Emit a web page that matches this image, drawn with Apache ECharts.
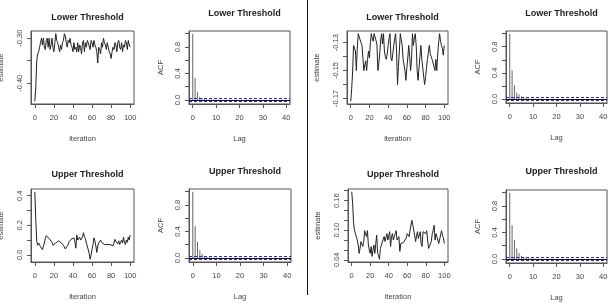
<!DOCTYPE html>
<html>
<head>
<meta charset="utf-8">
<script src="https://cdn.jsdelivr.net/npm/echarts@6/dist/echarts.min.js"></script>
<style>
html, body { margin: 0; padding: 0; background: #fff; }
#main { width: 611px; height: 306px; }
</style>
</head>
<body>
<div id="main"></div>
<script>
// trace values, iteration 0..100
var leftLower = [-0.44,-0.41,-0.35,-0.335,-0.33,-0.32,-0.31,-0.30,-0.315,-0.30,
  -0.32,-0.325,-0.305,-0.30,-0.32,-0.30,-0.325,-0.315,-0.30,-0.32,
  -0.33,-0.31,-0.29,-0.305,-0.31,-0.32,-0.33,-0.315,-0.325,-0.31,
  -0.305,-0.29,-0.295,-0.31,-0.32,-0.305,-0.31,-0.30,-0.315,-0.32,
  -0.33,-0.31,-0.325,-0.32,-0.33,-0.31,-0.33,-0.315,-0.32,-0.335,
  -0.31,-0.305,-0.33,-0.31,-0.32,-0.305,-0.31,-0.31,-0.325,-0.305,
  -0.31,-0.32,-0.305,-0.315,-0.32,-0.33,-0.355,-0.32,-0.325,-0.335,
  -0.31,-0.32,-0.30,-0.31,-0.315,-0.325,-0.31,-0.32,-0.33,-0.335,
  -0.345,-0.33,-0.32,-0.325,-0.31,-0.315,-0.33,-0.31,-0.305,-0.32,
  -0.325,-0.31,-0.33,-0.315,-0.32,-0.305,-0.31,-0.325,-0.305,-0.315,-0.32];
var leftUpper = [0.427,0.24,0.09,0.065,0.08,0.07,0.055,0.045,0.035,0.06,
  0.08,0.11,0.13,0.125,0.12,0.11,0.105,0.10,0.085,0.065,
  0.075,0.07,0.08,0.085,0.09,0.095,0.10,0.09,0.08,0.075,
  0.065,0.055,0.04,0.03,0.05,0.07,0.09,0.10,0.105,0.10,
  0.11,0.115,0.09,0.045,0.135,0.10,0.09,0.12,0.10,0.09,
  0.12,0.15,0.125,0.11,0.08,0.06,0.035,0.01,-0.03,0.0,
  0.035,0.07,0.115,0.095,0.06,0.016,0.06,0.08,0.09,0.10,
  0.085,0.075,0.08,0.07,0.065,0.075,0.07,0.065,0.06,0.07,
  0.075,0.065,0.06,0.08,0.105,0.09,0.085,0.075,0.095,0.07,
  0.085,0.10,0.08,0.12,0.085,0.07,0.10,0.085,0.12,0.10,0.135];
var rightLower = [-0.172,-0.163,-0.151,-0.132,-0.134,-0.136,-0.150,-0.134,-0.1236,-0.1236,
  -0.1236,-0.130,-0.132,-0.133,-0.150,-0.146,-0.143,-0.150,-0.142,-0.136,
  -0.141,-0.130,-0.1236,-0.127,-0.129,-0.1236,-0.1236,-0.1236,-0.131,-0.150,
  -0.145,-0.138,-0.128,-0.1236,-0.131,-0.1236,-0.136,-0.140,-0.142,-0.138,
  -0.132,-0.127,-0.1236,-0.141,-0.143,-0.138,-0.132,-0.127,-0.1236,-0.136,
  -0.160,-0.147,-0.136,-0.1236,-0.128,-0.132,-0.142,-0.146,-0.150,-0.157,
  -0.148,-0.141,-0.132,-0.140,-0.150,-0.142,-0.1236,-0.132,-0.127,-0.1236,
  -0.132,-0.150,-0.157,-0.148,-0.140,-0.132,-0.142,-0.148,-0.154,-0.160,
  -0.155,-0.148,-0.142,-0.137,-0.132,-0.138,-0.140,-0.142,-0.143,-0.147,
  -0.150,-0.142,-0.150,-0.138,-0.130,-0.1236,-0.129,-0.132,-0.134,-0.139,-0.132];
var rightUpper = [0.178,0.155,0.115,0.10,0.093,0.087,0.08,0.07,0.053,0.063,
  0.077,0.072,0.067,0.077,0.099,0.092,0.087,0.099,0.07,0.06,
  0.053,0.067,0.047,0.06,0.07,0.053,0.073,0.09,0.053,0.048,
  0.041,0.063,0.07,0.072,0.073,0.087,0.077,0.085,0.093,0.08,
  0.088,0.097,0.067,0.087,0.093,0.08,0.088,0.093,0.099,0.08,
  0.083,0.087,0.057,0.073,0.075,0.077,0.075,0.073,0.077,0.085,
  0.093,0.09,0.087,0.10,0.11,0.12,0.11,0.10,0.09,0.077,
  0.088,0.097,0.083,0.09,0.097,0.073,0.067,0.097,0.098,0.099,
  0.093,0.099,0.08,0.063,0.063,0.063,0.077,0.093,0.10,0.11,
  0.08,0.093,0.087,0.08,0.073,0.077,0.09,0.099,0.09,0.085,0.073];

// autocorrelations, lag 0..40
var acfLeftLower = [1,0.33,0.12,0.05,0.025,0.015,0.01,0.008,0.006,0.005,
  0.004,0.003,0.002,0.004,0.003,0.002,0.001,0.002,0.003,0.002,
  0.001,0.002,0.001,0.003,0.002,0.001,0.002,0.001,0.002,0.001,
  0.002,0.001,0.001,0.002,0.001,0.002,0.001,0.001,0.002,0.001,0.001];
var acfLeftUpper = [1,0.48,0.24,0.12,0.06,0.03,0.015,0.01,0.008,0.006,
  0.005,0.004,0.003,0.004,0.003,0.002,0.003,0.002,0.003,0.002,
  0.002,0.001,0.002,0.003,0.002,0.001,0.002,0.001,0.002,0.001,
  0.002,0.001,0.002,0.001,0.001,0.002,0.001,0.001,0.002,0.001,0.001];
var acfRightLower = [1,0.44,0.21,0.10,0.07,0.04,0.02,0.012,0.008,0.006,
  0.005,0.004,0.003,0.004,0.003,0.002,0.003,0.002,0.003,0.002,
  0.002,0.001,0.002,0.003,0.002,0.001,0.002,0.001,0.002,0.001,
  0.002,0.001,0.002,0.001,0.001,0.002,0.001,0.001,0.002,0.001,0.001];
var acfRightUpper = [1,0.51,0.29,0.16,0.09,0.05,0.03,0.018,0.012,0.008,
  0.006,0.005,0.004,0.004,0.003,0.003,0.003,0.002,0.003,0.002,
  0.002,0.002,0.002,0.003,0.002,0.002,0.002,0.001,0.002,0.001,
  0.002,0.001,0.002,0.001,0.001,0.002,0.001,0.001,0.002,0.001,0.001];
var acfBound = 0.02;

var iterTicks = [0,20,40,60,80,100];
var lagTicks = [0,10,20,30,40];
var font = 'Liberation Sans, Arial, sans-serif';

var grids = [], xAxes = [], yAxes = [], series = [], titles = [];

// R style: data range widened by 4% each side
function padRange(vals) {
  var lo = Math.min.apply(null, vals), hi = Math.max.apply(null, vals);
  var d = hi - lo;
  return [lo - 0.04 * d, hi + 0.04 * d];
}

function axisCommon(i, name, gap, ticks, labels, dec, rot, margin) {
  return {
    gridIndex: i, type: 'value', name: name, nameLocation: 'middle', nameGap: gap,
    nameTextStyle: {fontFamily: font, fontSize: 7.5, color: '#444'},
    splitLine: {show: false},
    axisLine: {show: true, onZero: false, lineStyle: {color: '#555', width: 1}},
    axisTick: {show: true, length: 4, customValues: ticks, lineStyle: {color: '#555'}},
    axisLabel: {customValues: labels, fontFamily: font, fontSize: 7.5, color: '#444', margin: margin, rotate: rot,
      formatter: function (v) { return v.toFixed(dec); }}
  };
}

function panel(p) {
  var i = grids.length;
  // outerBoundsMode none: keep the box where it is even if the y name runs off the page
  grids.push({left: p.box[0], top: p.box[1], width: p.box[2], height: p.box[3], outerBoundsMode: 'none',
    show: true, borderColor: '#555', borderWidth: 1, backgroundColor: 'transparent'});
  titles.push({text: p.title, left: p.box[0] + p.box[2] / 2, top: p.titleTop, textAlign: 'center',
    textStyle: {fontFamily: font, fontSize: 9, fontWeight: 'bold', color: '#222'}});
  var x = axisCommon(i, p.xName, 31, p.xTicks, p.xTicks, 0, 0, 10);
  x.min = p.xRange[0]; x.max = p.xRange[1];
  var y = axisCommon(i, p.yName, p.yGap, p.yTicks, p.yLabels, p.dec, 90, 7);
  y.min = p.yRange[0]; y.max = p.yRange[1];
  xAxes.push(x); yAxes.push(y);
  return i;
}

function tracePanel(vals, box, title, titleTop, yTicks, yLabels, dec) {
  var i = panel({box: box, title: title, titleTop: titleTop, xName: 'iteration', yName: 'estimate', yGap: 26,
    xTicks: iterTicks, xRange: [-4, 104], yTicks: yTicks, yLabels: yLabels, dec: dec, yRange: padRange(vals)});
  series.push({type: 'line', xAxisIndex: i, yAxisIndex: i, showSymbol: false,
    lineStyle: {color: '#222', width: 1},
    data: vals.map(function (v, k) { return [k, v]; })});
}

function acfPanel(vals, box, title, titleTop) {
  var i = panel({box: box, title: title, titleTop: titleTop, xName: 'Lag', yName: 'ACF', yGap: 24,
    xTicks: lagTicks, xRange: [-1.6, 41.6], yTicks: [0, 0.2, 0.4, 0.6, 0.8, 1.0], yLabels: [0, 0.4, 0.8], dec: 1,
    yRange: padRange(vals.concat([-acfBound, acfBound]))});
  series.push({type: 'bar', xAxisIndex: i, yAxisIndex: i, barWidth: 1,
    itemStyle: {color: '#666'},
    data: vals.map(function (v, k) { return [k, v]; }),
    markLine: {silent: true, symbol: 'none', label: {show: false},
      data: [
        {yAxis: 0, lineStyle: {color: '#111', type: 'solid', width: 1}},
        {yAxis: acfBound, lineStyle: {color: '#2a2ab8', type: [3, 2], width: 1}},
        {yAxis: -acfBound, lineStyle: {color: '#2a2ab8', type: [3, 2], width: 1}}
      ]}});
}

tracePanel(leftLower, [31, 31, 103, 73], 'Lower Threshold', 8, [-0.40, -0.35, -0.30], [-0.40, -0.30], 2);
acfPanel(acfLeftLower, [189, 31, 101, 73], 'Lower Threshold', 4);
tracePanel(leftUpper, [31, 189, 103, 73], 'Upper Threshold', 165, [0, 0.1, 0.2, 0.3, 0.4], [0, 0.2, 0.4], 1);
acfPanel(acfLeftUpper, [189, 189, 102, 73], 'Upper Threshold', 162);
tracePanel(rightLower, [347, 31, 101, 73], 'Lower Threshold', 8,
  [-0.17, -0.16, -0.15, -0.14, -0.13], [-0.17, -0.15, -0.13], 2);
acfPanel(acfRightLower, [506, 31, 101, 72], 'Lower Threshold', 4);
tracePanel(rightUpper, [348, 189, 100, 73], 'Upper Threshold', 165,
  [0.04, 0.06, 0.08, 0.10, 0.12, 0.14, 0.16, 0.18], [0.04, 0.10, 0.16], 2);
acfPanel(acfRightUpper, [506, 190, 101, 73], 'Upper Threshold', 162);

var chart = echarts.init(document.getElementById('main'));
chart.setOption({
  animation: false,
  backgroundColor: '#fff',
  title: titles,
  grid: grids,
  xAxis: xAxes,
  yAxis: yAxes,
  series: series,
  graphic: [{type: 'line', shape: {x1: 307.5, y1: 0, x2: 307.5, y2: 295},
    style: {stroke: '#111', lineWidth: 1}}]
});
</script>
</body>
</html>
